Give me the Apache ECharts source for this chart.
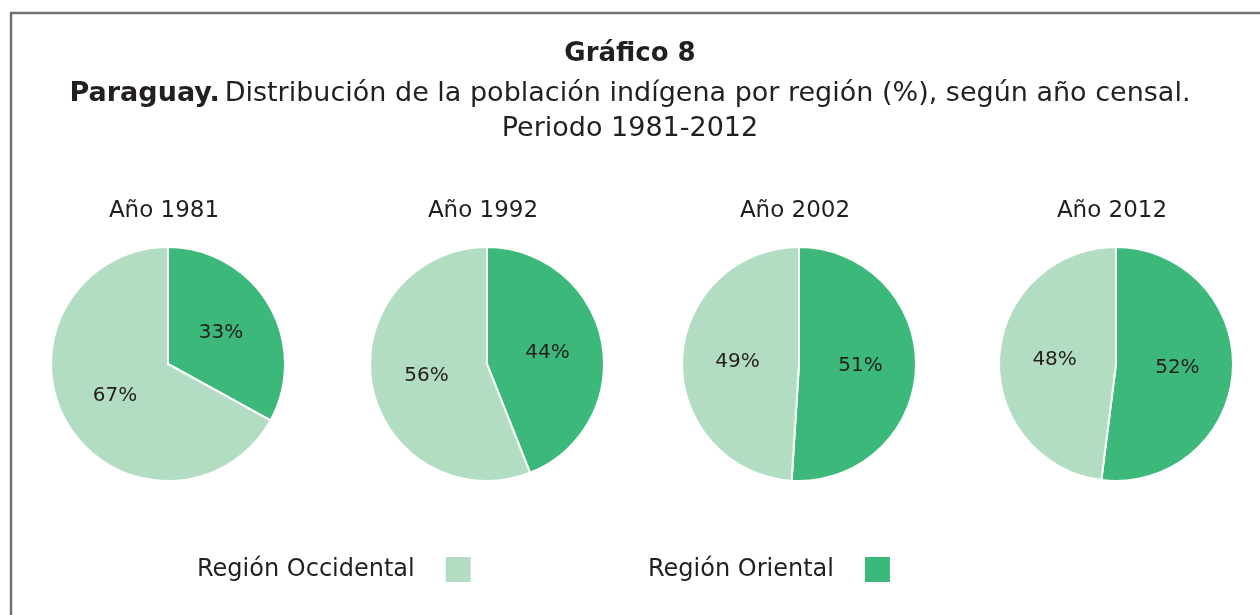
<!DOCTYPE html>
<html>
<head>
<meta charset="utf-8">
<script src="https://cdn.jsdelivr.net/npm/echarts@6/dist/echarts.min.js"></script>
<style>
  html, body { margin: 0; padding: 0; background: #fff; }
  #chart { width: 1260px; height: 615px; }
</style>
</head>
<body>
<div id="chart"></div>
<script>
var years = ['Año 1981', 'Año 1992', 'Año 2002', 'Año 2012'];
var regions = ['Región Occidental', 'Región Oriental'];
var occidental = [67, 56, 49, 48];
var oriental = [33, 44, 51, 52];
var centersX = [168, 487, 799, 1116];

var colOcc = '#b3ddc3';
var colOri = '#3cb97a';
var font = '"DejaVu Sans", "Noto Sans", sans-serif';
var txt = '#231f20';

var myChart = echarts.init(document.getElementById('chart'));

var series = [];
var titles = [
    {
        text: 'Gráfico 8',
        left: 'center',
        top: 36,
        textStyle: { fontFamily: font, fontWeight: 'bold', fontSize: 26, color: txt }
    },
    {
        text: '{b|Paraguay.} {n|Distribución de la población indígena por región (%), según año censal.}',
        left: 'center',
        top: 75,
        textStyle: {
            rich: {
                b: { fontFamily: font, fontWeight: 'bold', fontSize: 27, color: txt },
                n: { fontFamily: font, fontWeight: 'normal', fontSize: 27, color: txt }
            }
        }
    },
    {
        text: 'Periodo 1981-2012',
        left: 'center',
        top: 110,
        textStyle: { fontFamily: font, fontWeight: 'normal', fontSize: 27, color: txt }
    }
];

for (var i = 0; i < years.length; i++) {
    titles.push({
        text: years[i],
        left: centersX[i] - 4,
        top: 200,
        padding: 0,
        textAlign: 'center',
        textStyle: { fontFamily: font, fontWeight: 'normal', fontSize: 23, color: txt }
    });
    series.push({
        type: 'pie',
        center: [centersX[i], 364],
        radius: [0, 117],
        startAngle: 90,
        clockwise: true,
        avoidLabelOverlap: false,
        silent: true,
        itemStyle: { borderColor: '#fff', borderWidth: 2 },
        label: {
            show: true,
            position: 'inside',
            formatter: '{c}%',
            fontFamily: font,
            fontSize: 20,
            color: txt
        },
        labelLine: { show: false },
        data: [
            { name: regions[1], value: oriental[i], itemStyle: { color: colOri } },
            { name: regions[0], value: occidental[i], itemStyle: { color: colOcc } }
        ]
    });
}

var legendBase = {
    top: 555,
    padding: 0,
    align: 'right',
    icon: 'rect',
    itemWidth: 27,
    itemHeight: 27,
    selectedMode: false,
    textStyle: { fontFamily: font, fontSize: 24, color: txt, padding: [0, 25, 0, 0] }
};

var option = {
    backgroundColor: '#fff',
    animation: false,
    title: titles,
    legend: [
        Object.assign({}, legendBase, { data: [regions[0]], left: 197 }),
        Object.assign({}, legendBase, { data: [regions[1]], left: 648 })
    ],
    graphic: [{
        type: 'rect',
        shape: { x: 11, y: 13, width: 1300, height: 700 },
        style: { fill: 'none', stroke: '#707070', lineWidth: 2.5 },
        silent: true
    }],
    series: series
};

myChart.setOption(option);
</script>
</body>
</html>
